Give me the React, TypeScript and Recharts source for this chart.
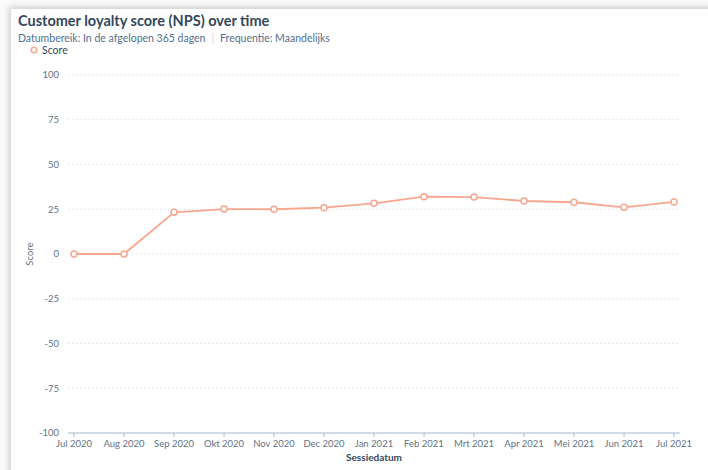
import React from "react";
import { LineChart, Line, XAxis, YAxis, CartesianGrid } from "recharts";

const months = [
  "Jul 2020", "Aug 2020", "Sep 2020", "Okt 2020", "Nov 2020", "Dec 2020", "Jan 2021",
  "Feb 2021", "Mrt 2021", "Apr 2021", "Mei 2021", "Jun 2021", "Jul 2021",
];
const scores = [0, 0, 23.3, 25.1, 25, 25.9, 28.3, 32, 31.8, 29.6, 28.9, 26.1, 29.1];
const yTicks = [-100, -75, -50, -25, 0, 25, 50, 75, 100];

const data = months.map((m, i) => ({ month: m, score: scores[i] }));

const FONT = "Lato, 'Open Sans', sans-serif";
const LINE = "#f9a68f";
const TICK = "#5f7286";

export default function App() {
  return (
    <div
      style={{
        position: "absolute",
        left: 0,
        top: 0,
        width: 708,
        height: 470,
        overflow: "hidden",
        background: "#fafafa",
        fontFamily: FONT,
      }}
    >
      <div
        style={{
          position: "absolute",
          left: 11,
          top: 9,
          width: 720,
          height: 480,
          background: "#ffffff",
          boxShadow: "-2px -2px 6px rgba(0,0,0,0.18)",
        }}
      />
      <div
        style={{
          position: "absolute",
          left: 18,
          top: 12,
          fontSize: 14.5,
          fontWeight: 700,
          color: "#33475b",
          whiteSpace: "nowrap",
        }}
      >
        Customer loyalty score (NPS) over time
      </div>
      <div
        style={{
          position: "absolute",
          left: 18,
          top: 31.5,
          fontSize: 10.5,
          color: "#516f90",
          whiteSpace: "nowrap",
        }}
      >
        Datumbereik: In de afgelopen 365 dagen
        <span style={{ color: "#cbd6e2", margin: "0 6px" }}>|</span>
        Frequentie: Maandelijks
      </div>
      <div
        style={{
          position: "absolute",
          left: 30,
          top: 44,
          fontSize: 10.5,
          color: "#33475b",
          whiteSpace: "nowrap",
          display: "flex",
          alignItems: "center",
        }}
      >
        <svg width="8" height="8" style={{ marginRight: 4 }}>
          <circle cx="4" cy="4" r="2.8" fill="#fff" stroke={LINE} strokeWidth="1.5" />
        </svg>
        Score
      </div>
      <div style={{ position: "absolute", left: 0, top: 0 }}>
        <LineChart
          width={708}
          height={470}
          data={data}
          margin={{ top: 75, right: 28, bottom: 7, left: 0 }}
        >
          <CartesianGrid
            vertical={false}
            stroke="#e3e7ee"
            strokeDasharray="2 2"
          />
          <XAxis
            dataKey="month"
            interval={0}
            padding={{ left: 6, right: 6 }}
            height={30}
            axisLine={{ stroke: "#a9bccf" }}
            tickLine={{ stroke: "#a9bccf" }}
            tickSize={4}
            tickMargin={3}
            tick={{ fontSize: 9.5, fill: TICK, fontFamily: FONT }}
            label={{
              value: "Sessiedatum",
              position: "insideBottom",
              offset: 2,
              style: { fontSize: 10, fontWeight: 700, fill: "#33475b", fontFamily: FONT },
            }}
          />
          <YAxis
            type="number"
            domain={[-100, 100]}
            ticks={yTicks}
            width={68}
            axisLine={false}
            tickLine={false}
            tickSize={0}
            tickMargin={9}
            tick={{ fontSize: 9.5, fill: TICK, fontFamily: FONT }}
            label={{
              value: "Score",
              angle: -90,
              position: "insideLeft",
              offset: 30,
              style: { fontSize: 9.5, fill: TICK, fontFamily: FONT, textAnchor: "middle" },
            }}
          />
          <Line
            type="linear"
            dataKey="score"
            stroke={LINE}
            strokeWidth={1.8}
            dot={{ r: 3, fill: "#ffffff", stroke: LINE, strokeWidth: 1.5 }}
            isAnimationActive={false}
          />
        </LineChart>
      </div>
    </div>
  );
}
